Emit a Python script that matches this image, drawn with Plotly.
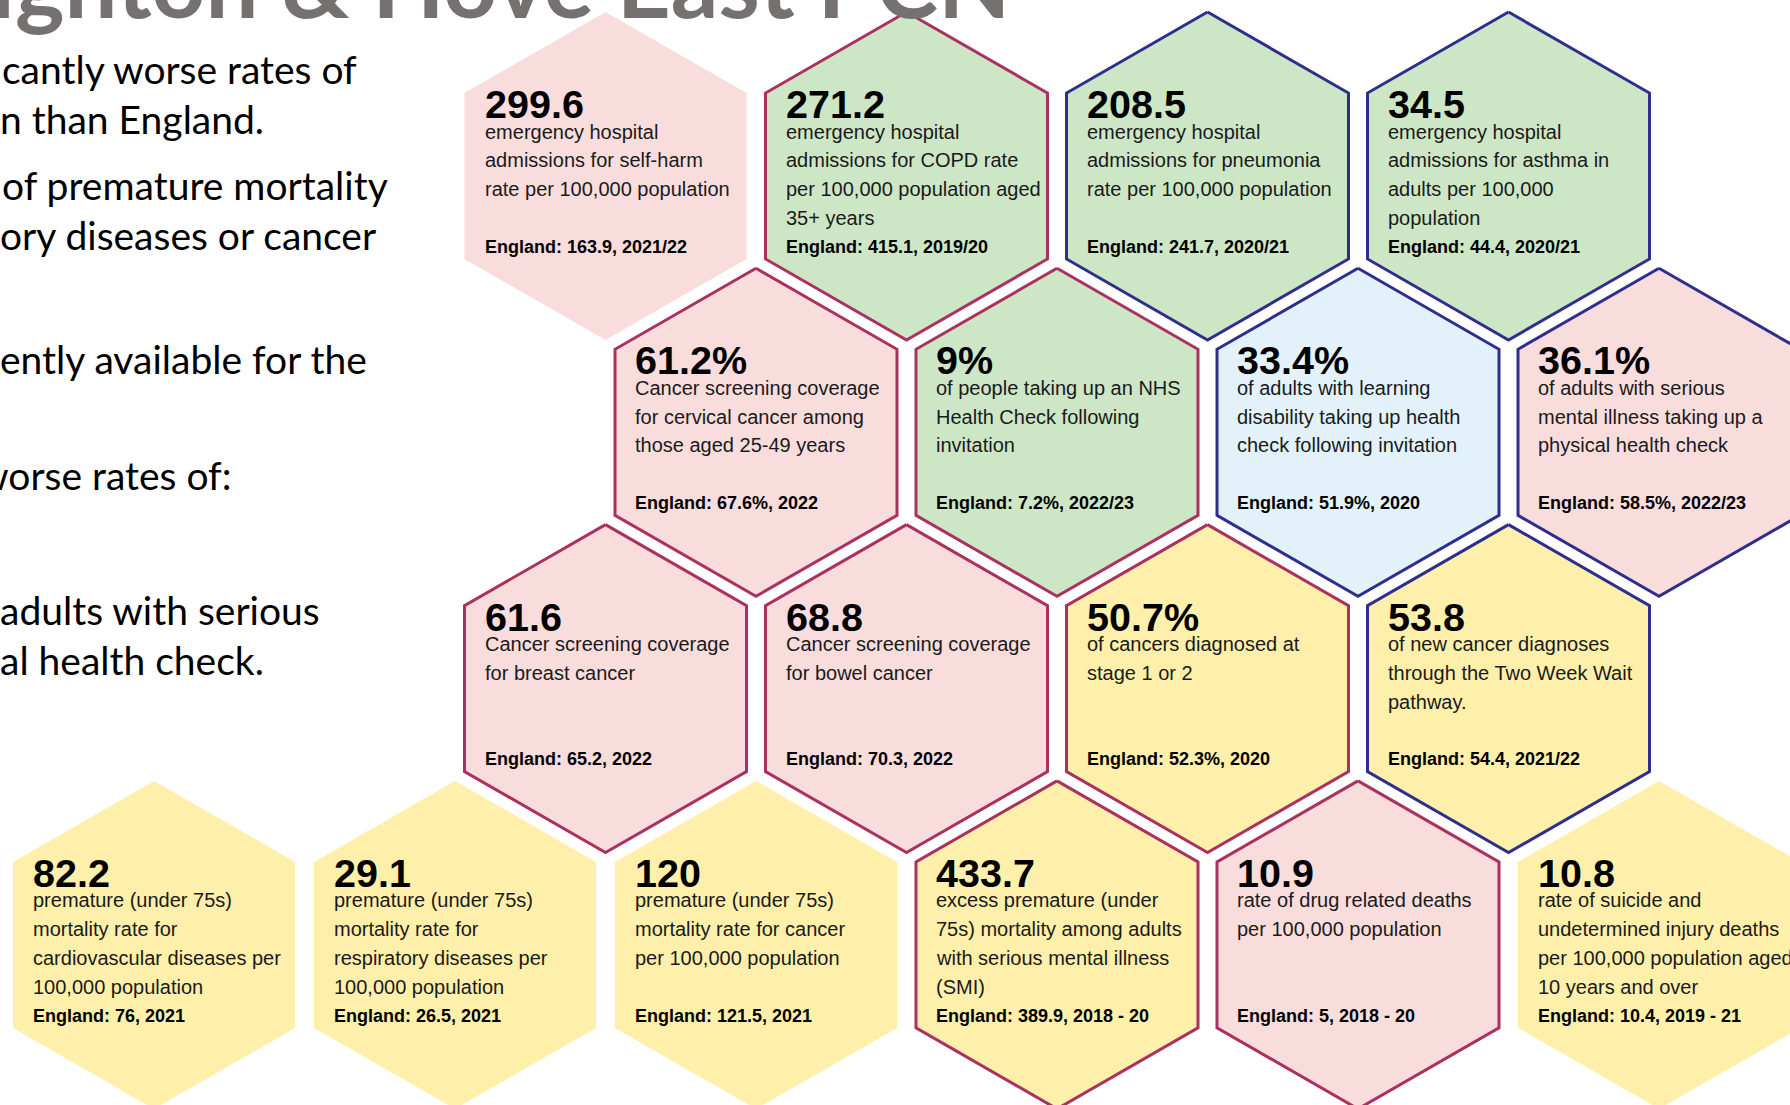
import plotly.graph_objects as go

# ------------------------------------------------------------------ data
rows = [0, 0, 0, 0, 1, 1, 1, 1, 2, 2, 2, 2, 3, 3, 3, 3, 3, 3]
cols = [3, 5, 7, 9, 4, 6, 8, 10, 3, 5, 7, 9, 0, 2, 4, 6, 8, 10]

values = ["299.6", "271.2", "208.5", "34.5",
          "61.2%", "9%", "33.4%", "36.1%",
          "61.6", "68.8", "50.7%", "53.8",
          "82.2", "29.1", "120", "433.7", "10.9", "10.8"]

descriptions = [
    ["emergency hospital", "admissions for self-harm", "rate per 100,000 population"],
    ["emergency hospital", "admissions for COPD rate", "per 100,000 population aged", "35+ years"],
    ["emergency hospital", "admissions for pneumonia", "rate per 100,000 population"],
    ["emergency hospital", "admissions for asthma in", "adults per 100,000", "population"],
    ["Cancer screening coverage", "for cervical cancer among", "those aged 25-49 years"],
    ["of people taking up an NHS", "Health Check following", "invitation"],
    ["of adults with learning", "disability taking up health", "check following invitation"],
    ["of adults with serious", "mental illness taking up a", "physical health check"],
    ["Cancer screening coverage", "for breast cancer"],
    ["Cancer screening coverage", "for bowel cancer"],
    ["of cancers diagnosed at", "stage 1 or 2"],
    ["of new cancer diagnoses", "through the Two Week Wait", "pathway."],
    ["premature (under 75s)", "mortality rate for", "cardiovascular diseases per", "100,000 population"],
    ["premature (under 75s)", "mortality rate for", "respiratory diseases per", "100,000 population"],
    ["premature (under 75s)", "mortality rate for cancer", "per 100,000 population"],
    ["excess premature (under", "75s) mortality among adults", "with serious mental illness", "(SMI)"],
    ["rate of drug related deaths", "per 100,000 population"],
    ["rate of suicide and", "undetermined injury deaths", "per 100,000 population aged", "10 years and over"],
]

england = ["England: 163.9, 2021/22", "England: 415.1, 2019/20", "England: 241.7, 2020/21",
           "England: 44.4, 2020/21", "England: 67.6%, 2022", "England: 7.2%, 2022/23",
           "England: 51.9%, 2020", "England: 58.5%, 2022/23", "England: 65.2, 2022",
           "England: 70.3, 2022", "England: 52.3%, 2020", "England: 54.4, 2021/22",
           "England: 76, 2021", "England: 26.5, 2021", "England: 121.5, 2021",
           "England: 389.9, 2018 - 20", "England: 5, 2018 - 20", "England: 10.4, 2019 - 21"]

fill_kind = ["pink", "green", "green", "green",
             "pink", "green", "blue", "pink",
             "pink", "pink", "yellow", "yellow",
             "yellow", "yellow", "yellow", "yellow", "pink", "yellow"]
border_kind = ["none", "crimson", "navy", "navy",
               "crimson", "crimson", "navy", "navy",
               "crimson", "crimson", "crimson", "navy",
               "none", "none", "none", "crimson", "crimson", "none"]

title_text = "Brighton & Hove East PCN"
side_lines = ["cantly worse rates of", "n than England.", "of premature mortality",
              "ory diseases or cancer", "ently available for the", "worse rates of:",
              "adults with serious", "al health check."]

# ------------------------------------------------------------------ layout / style
W, H = 1790, 1105
X0, DX = 154.0, 150.5      # half-column step
Y0, DY = 176.0, 256.3      # row step
HW, HH, SH = 141.0, 164.0, 83.0   # hex half-width, half-height, side half-length

FILLS = {"pink": "#F9DDDD", "green": "#CDE7C6", "blue": "#E3F2FA", "yellow": "#FEF0AA"}
BORDERS = {"crimson": "#AA3160", "navy": "#2E2F8C"}

TXT_FONT = "Liberation Sans, Arial, sans-serif"
SIDE_FONT = "Lato, Open Sans, sans-serif"

VAL_SIZE, DESC_SIZE, ENG_SIZE = 39.5, 20, 18
SIDE_SIZE, TITLE_SIZE = 39, 94

side_x = [2, 0, 2, 0, 0, -22, 0, 0]
side_base = [82, 132, 198, 248, 372, 488, 623, 673]

fig = go.Figure()
annotations = []


def ann(x, y, text, size, bold=False, color="#111111", xref="x", yref="y", family=TXT_FONT):
    annotations.append(dict(
        x=x, y=y, xref=xref, yref=yref, text=("<b>%s</b>" % text) if bold else text,
        showarrow=False, xanchor="left", yanchor="middle",
        font=dict(family=family, size=size, color=color), borderpad=0, borderwidth=0,
    ))


for i in range(len(values)):
    cx = X0 + cols[i] * DX
    cy = Y0 + rows[i] * DY
    xs = [cx, cx + HW, cx + HW, cx, cx - HW, cx - HW, cx]
    ys = [cy - HH, cy - SH, cy + SH, cy + HH, cy + SH, cy - SH, cy - HH]
    b = border_kind[i]
    fig.add_trace(go.Scatter(
        x=xs, y=ys, mode="lines", fill="toself",
        fillcolor=FILLS[fill_kind[i]],
        line=dict(color=BORDERS[b] if b != "none" else FILLS[fill_kind[i]],
                  width=3 if b != "none" else 0),
        hoverinfo="skip", showlegend=False,
    ))
    tx = cx - 121
    ann(tx, cy - 58 - 0.35 * VAL_SIZE, values[i], VAL_SIZE, bold=True, color="#000000")
    for k, line in enumerate(descriptions[i]):
        ann(tx, cy - 37.5 + 28.7 * k - 0.35 * DESC_SIZE, line, DESC_SIZE, color="#1a1a1a")
    ann(tx, cy + 77 - 0.35 * ENG_SIZE, england[i], ENG_SIZE, bold=True, color="#000000")

# title (cut off at the top/left like the slide)
ann(-105 / W, 1 - (19 - 0.4 * TITLE_SIZE) / H, title_text, TITLE_SIZE, bold=True, color="#767171",
    xref="paper", yref="paper", family=SIDE_FONT)

for x, base, line in zip(side_x, side_base, side_lines):
    ann(x / W, 1 - (base - 0.33 * SIDE_SIZE) / H, line, SIDE_SIZE, color="#000000",
        xref="paper", yref="paper", family=SIDE_FONT)

fig.update_layout(
    width=W, height=H,
    margin=dict(l=0, r=0, t=0, b=0),
    paper_bgcolor="white", plot_bgcolor="white",
    xaxis=dict(range=[0, W], visible=False, fixedrange=True),
    yaxis=dict(range=[H, 0], visible=False, fixedrange=True),
    showlegend=False,
    annotations=annotations,
)

fig.write_html(
    "out.html",
    config={"displayModeBar": False},
    post_script="document.body.style.margin='0';document.body.style.overflow='hidden';",
)
